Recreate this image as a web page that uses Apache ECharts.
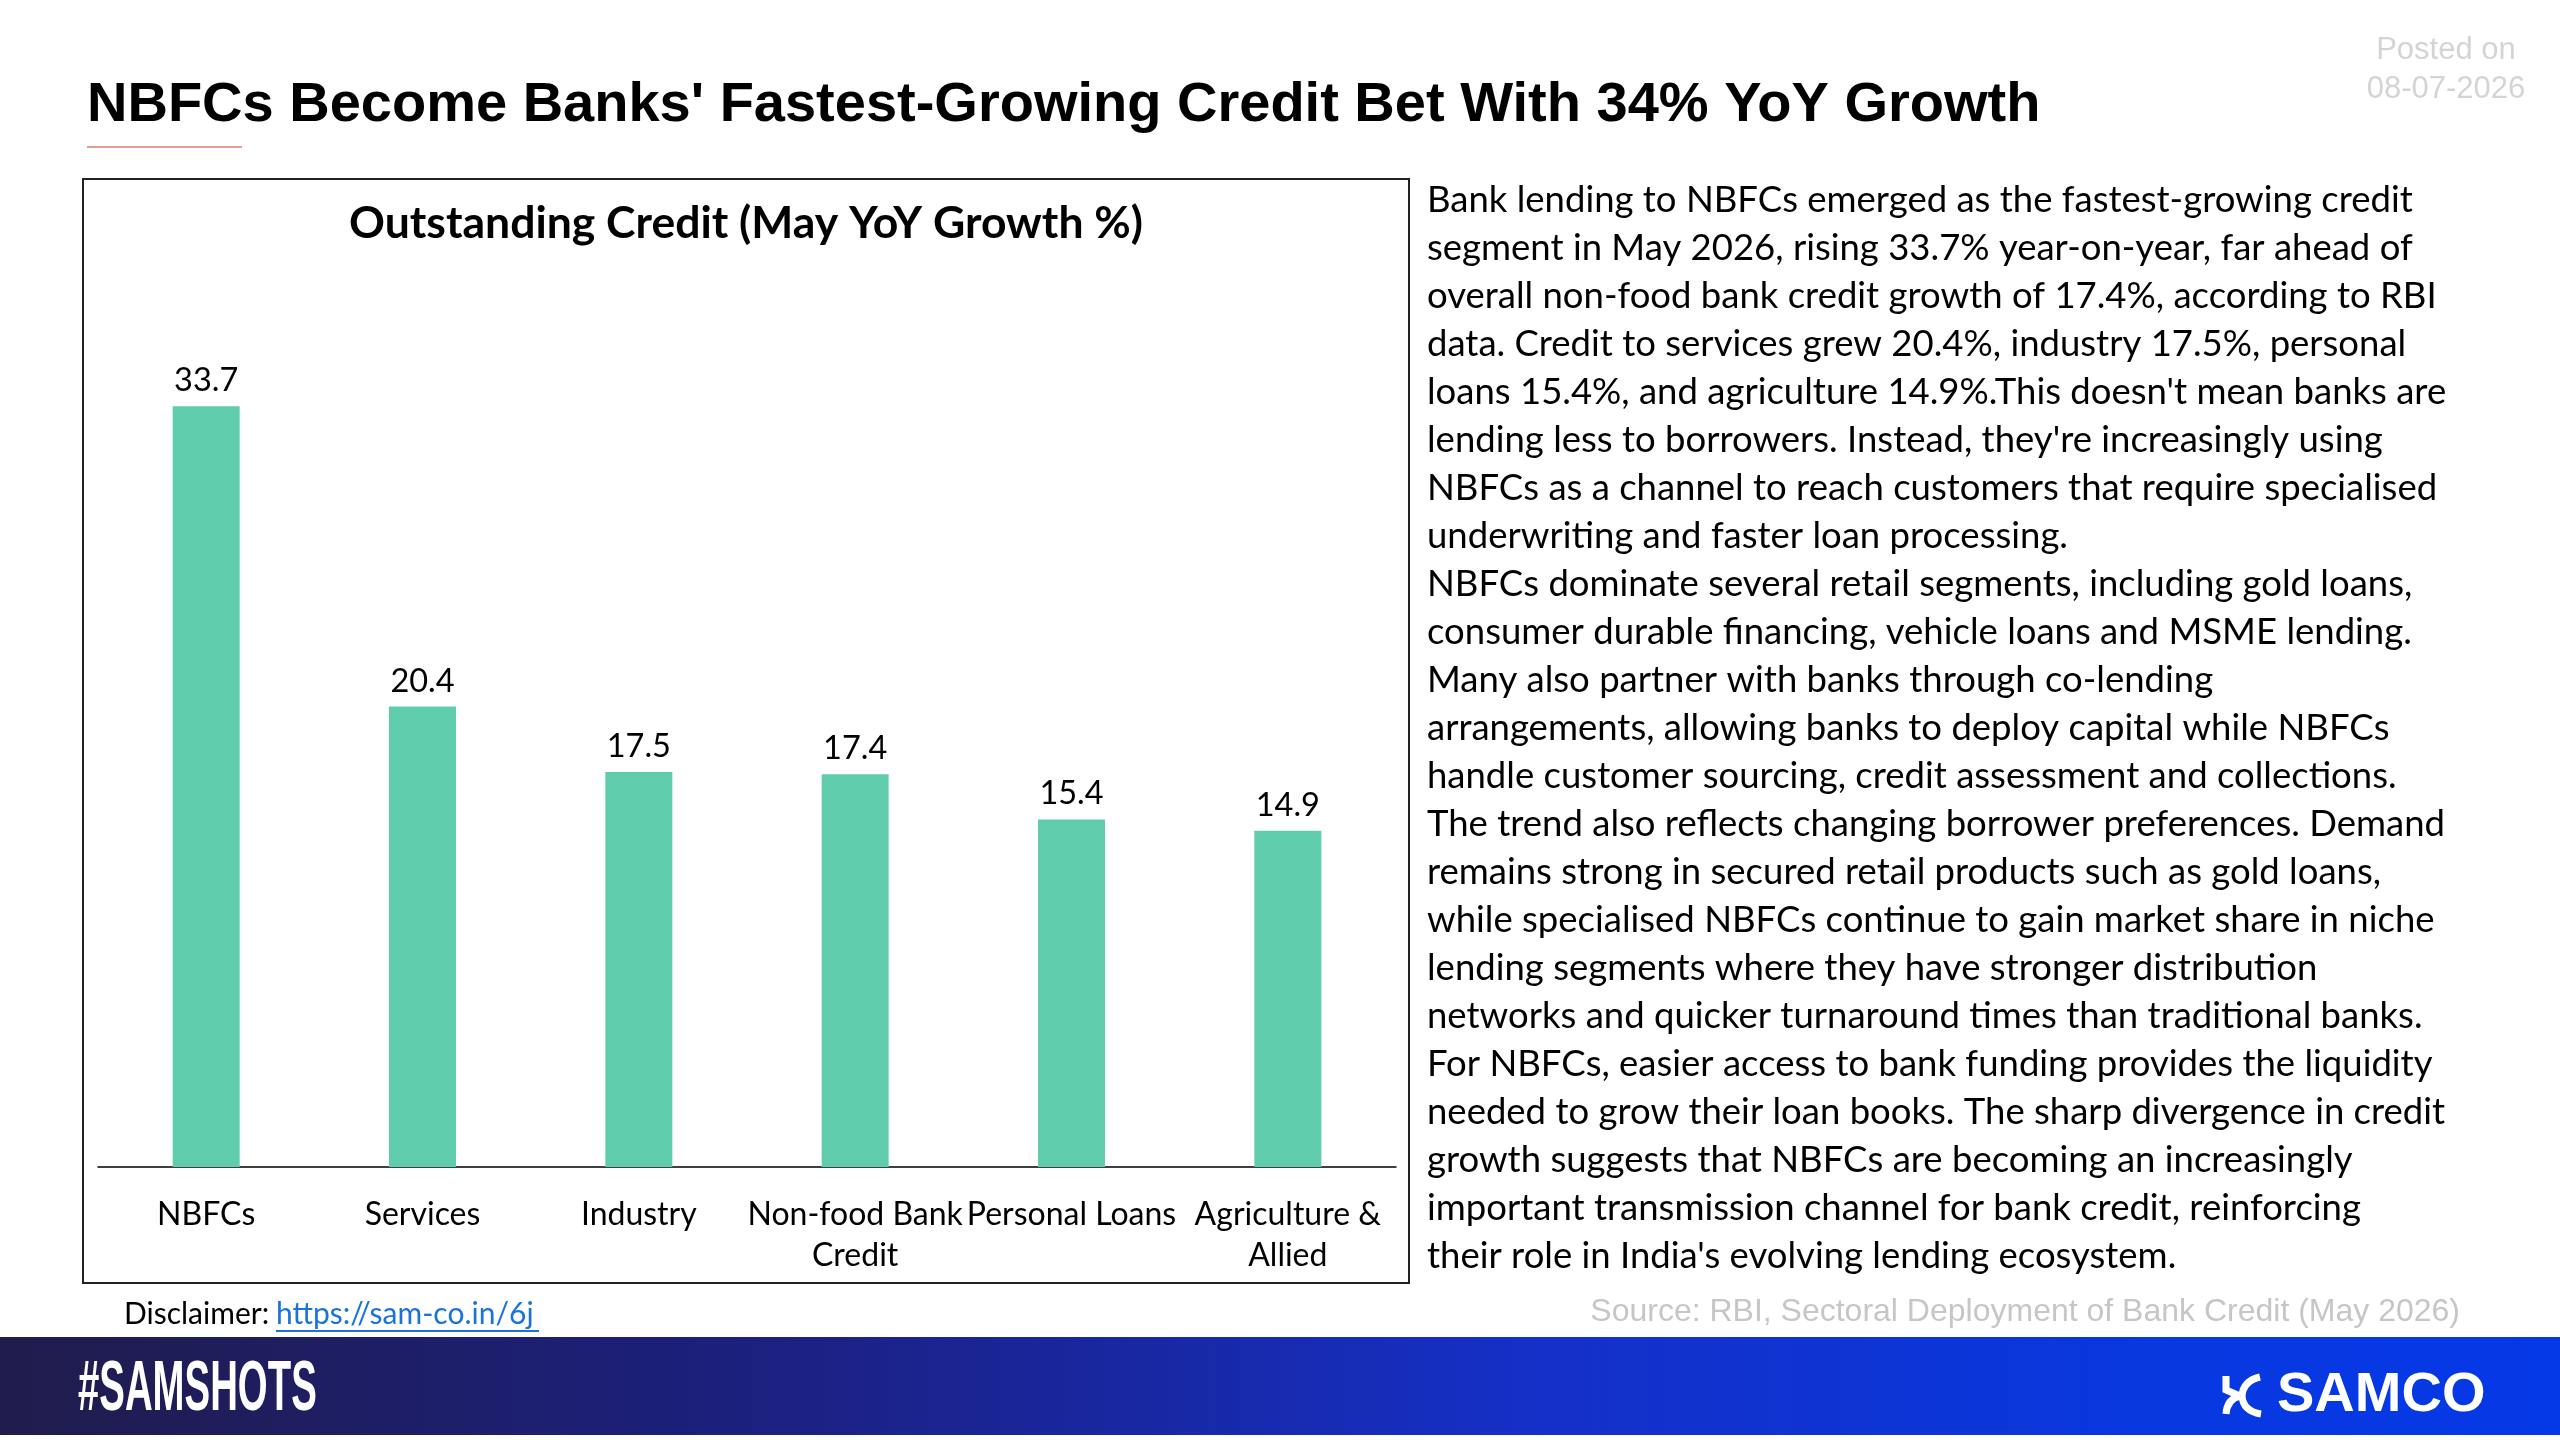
<!DOCTYPE html>
<html>
<head>
<meta charset="utf-8">
<title>NBFC credit growth</title>
<script src="https://cdn.jsdelivr.net/npm/echarts@6/dist/echarts.min.js"></script>
<style>
  html, body { margin: 0; padding: 0; background: #fff; }
  #main { width: 2560px; height: 1440px; }
</style>
</head>
<body>
<div id="main"></div>
<script>
// data
var categories = ['NBFCs', 'Services', 'Industry', 'Non-food Bank\nCredit', 'Personal Loans', 'Agriculture &\nAllied'];
var growth = [33.7, 20.4, 17.5, 17.4, 15.4, 14.9];

var mainTitle = "NBFCs Become Banks' Fastest-Growing Credit Bet With 34% YoY Growth";
var chartTitle = 'Outstanding Credit (May YoY Growth %)';
var postedOn = ['Posted on', '08-07-2026'];
var sourceText = 'Source: RBI, Sectoral Deployment of Bank Credit (May 2026)';

var paragraph = [
	'Bank lending to NBFCs emerged as the fastest-growing credit',
	'segment in May 2026, rising 33.7% year-on-year, far ahead of',
	'overall non-food bank credit growth of 17.4%, according to RBI',
	'data. Credit to services grew 20.4%, industry 17.5%, personal',
	"loans 15.4%, and agriculture 14.9%.This doesn't mean banks are",
	"lending less to borrowers. Instead, they're increasingly using",
	'NBFCs as a channel to reach customers that require specialised',
	'underwriting and faster loan processing.',
	'NBFCs dominate several retail segments, including gold loans,',
	'consumer durable financing, vehicle loans and MSME lending.',
	'Many also partner with banks through co-lending',
	'arrangements, allowing banks to deploy capital while NBFCs',
	'handle customer sourcing, credit assessment and collections.',
	'The trend also reflects changing borrower preferences. Demand',
	'remains strong in secured retail products such as gold loans,',
	'while specialised NBFCs continue to gain market share in niche',
	'lending segments where they have stronger distribution',
	'networks and quicker turnaround times than traditional banks.',
	'For NBFCs, easier access to bank funding provides the liquidity',
	'needed to grow their loan books. The sharp divergence in credit',
	'growth suggests that NBFCs are becoming an increasingly',
	'important transmission channel for bank credit, reinforcing',
	"their role in India's evolving lending ecosystem."
];

var bodyFont = 'Lato, "Open Sans", sans-serif';
var arialFont = '"Liberation Sans", Arial, sans-serif';
var chart = echarts.init(document.getElementById('main'));

// side text, one element per line
var textLines = paragraph.map(function (line, i) {
	return {
		type: 'text',
		x: 1427,
		y: 200 + i * 48,
		style: { text: line, font: '36.5px ' + bodyFont, fill: '#000', verticalAlign: 'middle' }
	};
});

var graphics = [
	// chart frame
	{ type: 'rect', shape: { x: 83, y: 179, width: 1326, height: 1104 }, style: { fill: 'none', stroke: '#222', lineWidth: 2 } },
	// title accent line
	{ type: 'line', shape: { x1: 87, y1: 147, x2: 242, y2: 147 }, style: { stroke: '#e4a08e', lineWidth: 2 } },
	{ type: 'text', x: 87, y: 106, style: { text: mainTitle, font: 'bold 56px ' + arialFont, fill: '#000', verticalAlign: 'middle' } },
	{ type: 'text', x: 2446, y: 50, style: { text: postedOn[0], font: '31px ' + arialFont, fill: '#d4d4d4', align: 'center', verticalAlign: 'middle' } },
	{ type: 'text', x: 2446, y: 89, style: { text: postedOn[1], font: '31px ' + arialFont, fill: '#d4d4d4', align: 'center', verticalAlign: 'middle' } },
	{ type: 'text', x: 746, y: 224, style: { text: chartTitle, font: 'bold 44.5px ' + bodyFont, fill: '#000', align: 'center', verticalAlign: 'middle' } },
	// disclaimer
	{ type: 'text', x: 124, y: 1314, style: { text: 'Disclaimer:', font: '30px ' + bodyFont, fill: '#000', verticalAlign: 'middle' } },
	{ type: 'text', x: 276, y: 1314, style: { text: 'https://sam-co.in/6j', font: '30px ' + bodyFont, fill: '#1a73d9', verticalAlign: 'middle' } },
	{ type: 'line', shape: { x1: 276, y1: 1331, x2: 539, y2: 1331 }, style: { stroke: '#1a73d9', lineWidth: 2 } },
	{ type: 'text', x: 2460, y: 1312, style: { text: sourceText, font: '32px ' + arialFont, fill: '#c6c6c6', align: 'right', verticalAlign: 'middle' } },
	// footer band
	{
		type: 'rect', shape: { x: 0, y: 1337, width: 2560, height: 98 },
		style: {
			fill: new echarts.graphic.LinearGradient(0, 0, 1, 0, [
				{ offset: 0, color: '#201c4c' },
				{ offset: 0.3, color: '#1c2080' },
				{ offset: 0.6, color: '#1530c8' },
				{ offset: 0.85, color: '#0838e0' },
				{ offset: 1, color: '#0538e6' }
			])
		}
	},
	{ type: 'text', x: 78, y: 1391, scaleX: 0.548, style: { text: '#SAMSHOTS', font: 'bold 70px ' + arialFont, fill: '#fff', verticalAlign: 'middle' } },
	{ type: 'text', x: 2277, y: 1396, style: { text: 'SAMCO', font: 'bold 56px ' + arialFont, fill: '#fff', verticalAlign: 'middle' } },
	// logo mark, rough
	{ type: 'polyline', shape: { points: [[2226, 1376], [2226, 1390], [2240, 1396]] }, style: { fill: 'none', stroke: '#fff', lineWidth: 7 } },
	{ type: 'bezierCurve', shape: { x1: 2240, y1: 1396, cpx1: 2227, cpy1: 1399, x2: 2226, y2: 1414 }, style: { fill: 'none', stroke: '#fff', lineWidth: 7 } },
	{ type: 'bezierCurve', shape: { x1: 2260, y1: 1377, cpx1: 2243, cpy1: 1381, x2: 2242, y2: 1396 }, style: { fill: 'none', stroke: '#fff', lineWidth: 7 } },
	{ type: 'bezierCurve', shape: { x1: 2242, y1: 1396, cpx1: 2243, cpy1: 1411, x2: 2261, y2: 1414 }, style: { fill: 'none', stroke: '#fff', lineWidth: 7 } }
].concat(textLines);

chart.setOption({
	animation: false,
	backgroundColor: '#fff',
	grid: { left: 98, right: 1164, top: 377, bottom: 273 },
	xAxis: {
		type: 'category',
		data: categories,
		axisLine: { lineStyle: { color: '#000', width: 1.5 } },
		axisTick: { show: false },
		axisLabel: {
			interval: 0,
			margin: 27,
			color: '#000',
			fontFamily: bodyFont,
			fontSize: 32,
			lineHeight: 41
		}
	},
	yAxis: {
		type: 'value',
		min: 0,
		max: 35,
		show: false,
		splitLine: { show: false }
	},
	series: [{
		type: 'bar',
		data: growth,
		barWidth: 67,
		itemStyle: { color: '#5fcdab' },
		label: {
			show: true,
			position: 'top',
			distance: 9,
			color: '#000',
			fontFamily: bodyFont,
			fontSize: 32.5
		}
	}],
	graphic: graphics
});
</script>
</body>
</html>
